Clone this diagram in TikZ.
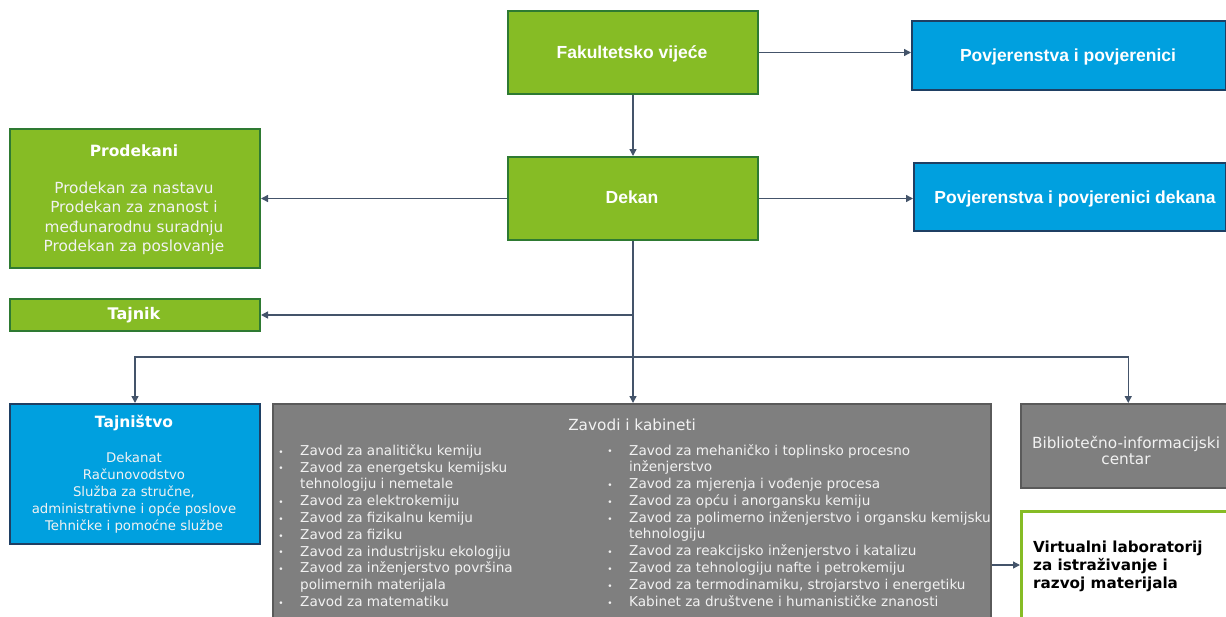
\documentclass[tikz,border=0pt]{standalone}
\usepackage{fontspec}
\setmainfont{DejaVu Sans}
\newfontfamily\headfont{Liberation Sans}
\usetikzlibrary{arrows.meta}

\definecolor{leafgreen}{HTML}{86BC25}
\definecolor{darkgreen}{HTML}{2E7A32}
\definecolor{skyblue}{HTML}{00A0DF}
\definecolor{navyline}{HTML}{1F3F63}
\definecolor{boxgray}{HTML}{7F7F7F}
\definecolor{graydark}{HTML}{5A5A5A}
\definecolor{slate}{HTML}{44546A}
\definecolor{paletext}{HTML}{F2F2F2}

\begin{document}
\begin{tikzpicture}[x=1pt,y=-1pt,
  box/.style={draw, line width=2pt, anchor=north west, inner sep=0pt},
  greenbox/.style={box, fill=leafgreen, draw=darkgreen},
  bluebox/.style={box, fill=skyblue, draw=navyline},
  graybox/.style={box, fill=boxgray, draw=graydark, line width=1.5pt},
  labbox/.style={box, fill=white, draw=leafgreen, line width=3pt},
  conn/.style={draw=slate, line width=1.4pt, -{Triangle[length=7pt,width=7pt]}},
  headtxt/.style={text=white, anchor=base, inner sep=0pt, font=\headfont\bfseries\fontsize{17.5}{20}\selectfont},
  boldtxt/.style={text=white, anchor=base, inner sep=0pt, font=\bfseries\fontsize{15.5}{18}\selectfont},
  bodytxt/.style={text=paletext, anchor=base, inner sep=0pt},
  listtxt/.style={text=paletext, anchor=base west, inner sep=0pt, font=\fontsize{13.6}{16}\selectfont},
  dot/.style={text=paletext, anchor=base, inner sep=0pt, font=\fontsize{9}{10}\selectfont}]

\useasboundingbox (0,0) rectangle (1226,616);
\clip (0,0) rectangle (1226,616);

% boxes
\node[greenbox, minimum width=250pt, minimum height=83pt] (fv) at (507,10) {};
\node[bluebox, minimum width=314pt, minimum height=69pt] (pov) at (911,20) {};
\node[greenbox, minimum width=250pt, minimum height=83pt] (dek) at (507,156) {};
\node[bluebox, minimum width=312pt, minimum height=68pt] (povd) at (913,162) {};
\node[greenbox, minimum width=250pt, minimum height=139pt] (prod) at (9,128) {};
\node[greenbox, minimum width=250pt, minimum height=32pt] (taj) at (9,298) {};
\node[bluebox, minimum width=250pt, minimum height=140pt] (tajs) at (9,403) {};
\node[graybox, minimum width=718pt, minimum height=240pt] (zav) at (272,403) {};
\node[graybox, minimum width=215pt, minimum height=84pt] (bib) at (1020,403) {};
\node[labbox, minimum width=215pt, minimum height=130pt] (vir) at (1020,510) {};

% titles of the upper boxes
\node[headtxt] (fvt) at (632,58) {Fakultetsko vijeće};
\node[headtxt] (povt) at (1068,61) {Povjerenstva i povjerenici};
\node[headtxt] (dekt) at (632,203) {Dekan};
\node[headtxt] (povdt) at (1075,203) {Povjerenstva i povjerenici dekana};

% Prodekani
\node[boldtxt] (prodt) at (134,156) {Prodekani};
\foreach \t/\y [count=\i] in {Prodekan za nastavu/188, Prodekan za znanost i/207,
    međunarodnu suradnju/226.5, Prodekan za poslovanje/246}
  \node[bodytxt, font=\fontsize{15.3}{18}\selectfont] (prodl\i) at (134,\y+5.6) {\t};

% Tajnik
\node[boldtxt, font=\bfseries\fontsize{16}{18}\selectfont] (tajt) at (134,319.5) {Tajnik};

% Tajništvo
\node[boldtxt, font=\bfseries\fontsize{15.5}{18}\selectfont] (tajst) at (134,427.5) {Tajništvo};
\foreach \t/\y [count=\i] in {Dekanat/458, Računovodstvo/475, {Služba za stručne,}/492,
    administrativne i opće poslove/508.5, Tehničke i pomoćne službe/526}
  \node[bodytxt, font=\fontsize{13.3}{15}\selectfont] (tajsl\i) at (134,\y+4.8) {\t};

% Zavodi i kabineti
\node[bodytxt, font=\fontsize{15.3}{17}\selectfont] (zavt) at (632,430.5) {Zavodi i kabineti};
\foreach \t/\y/\b [count=\i] in {
    Zavod za analitičku kemiju/451/1,
    Zavod za energetsku kemijsku/467.5/1,
    tehnologiju i nemetale/484/0,
    Zavod za elektrokemiju/501/1,
    Zavod za fizikalnu kemiju/518/1,
    Zavod za fiziku/535/1,
    Zavod za industrijsku ekologiju/551.5/1,
    Zavod za inženjerstvo površina/568/1,
    polimernih materijala/584.5/0,
    Zavod za matematiku/602/1}
  {
    \node[listtxt] (zl\i) at (300,\y+4.9) {\t};
    \ifnum\b=1 \node[dot] (zlb\i) at (281,\y+4) {•}; \fi
  }
\foreach \t/\y/\b [count=\i] in {
    Zavod za mehaničko i toplinsko procesno/450.5/1,
    inženjerstvo/467/0,
    Zavod za mjerenja i vođenje procesa/484/1,
    Zavod za opću i anorgansku kemiju/501/1,
    Zavod za polimerno inženjerstvo i organsku kemijsku/518/1,
    tehnologiju/534/0,
    Zavod za reakcijsko inženjerstvo i katalizu/551/1,
    Zavod za tehnologiju nafte i petrokemiju/568/1,
    {Zavod za termodinamiku, strojarstvo i energetiku}/585/1,
    Kabinet za društvene i humanističke znanosti/602/1}
  {
    \node[listtxt] (zr\i) at (629,\y+4.9) {\t};
    \ifnum\b=1 \node[dot] (zrb\i) at (610,\y+4) {•}; \fi
  }

% Bibliotečno-informacijski centar
\node[bodytxt, font=\fontsize{15.3}{17}\selectfont] (bibt1) at (1126,443+5.5) {Bibliotečno-informacijski};
\node[bodytxt, font=\fontsize{15.3}{17}\selectfont] (bibt2) at (1126,459+5.5) {centar};

% Virtualni laboratorij
\foreach \t/\y [count=\i] in {Virtualni laboratorij/547, za istraživanje i/565, razvoj materijala/583}
  \node[text=black, anchor=base west, inner sep=0pt, font=\bfseries\fontsize{15.2}{17}\selectfont] (virt\i) at (1033,\y+5.4) {\t};

% connectors
\coordinate (bus) at (632,357);
\draw[conn] (fv.east) -- (fv.east -| pov.west);
\draw[conn] (fv.south) -- (dek.north);
\draw[conn] (dek.east) -- (dek.east -| povd.west);
\draw[conn] (dek.west) -- (dek.west -| prod.east);
\draw[conn] (dek.south |- taj.east) -- (taj.east);
\draw[conn] (dek.south) -- (dek.south |- zav.north);
\draw[conn] (bus) -| (tajs.north);
\draw[conn] (bus) -| (bib.north);
\draw[conn] (zav.east |- 0,565) -- (vir.west |- 0,565);
\end{tikzpicture}
\end{document}
